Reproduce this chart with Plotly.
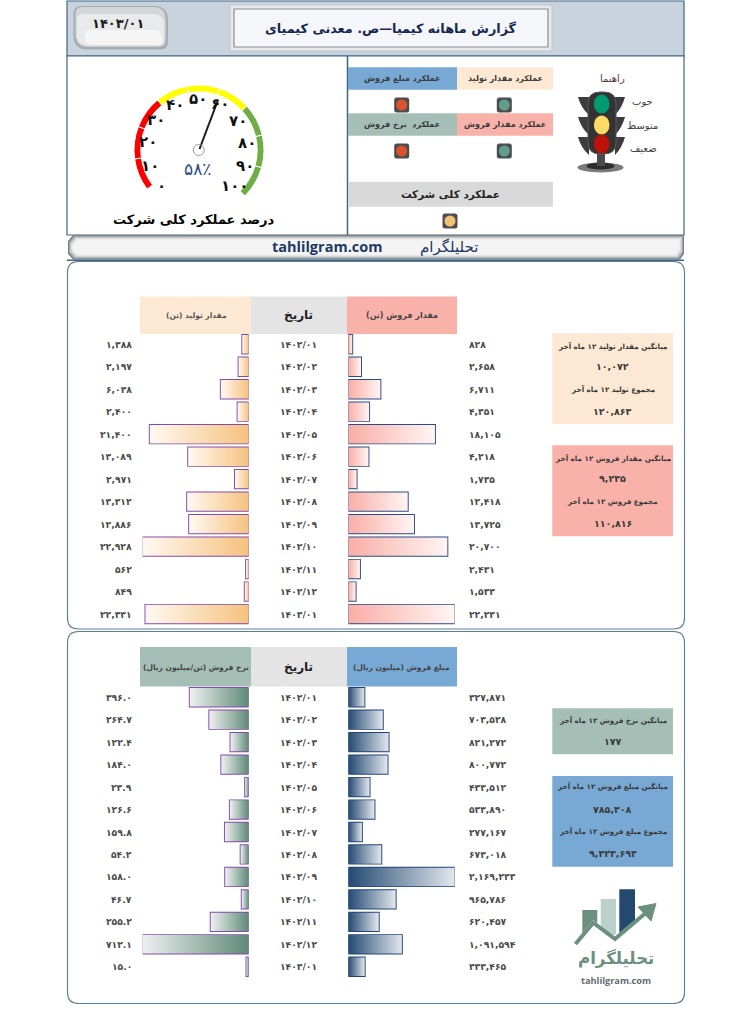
import plotly.graph_objects as go

# ---------- data ----------
dates = ["1402/01","1402/02","1402/03","1402/04","1402/05","1402/06","1402/07",
         "1402/08","1402/09","1402/10","1402/11","1402/12","1403/01"]
production = [1388,2197,6038,2400,21400,13089,2971,13312,12886,22928,562,849,22331]
sales_qty = [828,2658,6711,4351,18105,4218,1735,12418,13725,20700,2431,1533,22231]
sales_rate = [396.0,264.7,122.4,184.0,23.9,126.6,159.8,54.2,158.0,46.7,255.2,712.1,15.0]
sales_amount = [327871,703528,821272,800772,433512,533890,277167,673018,2169233,965786,620457,1091594,333465]
gauge_value = 58
gauge_ticks = [0,10,20,30,40,50,60,70,80,90,100]

FA = str.maketrans("0123456789", "۰۱۲۳۴۵۶۷۸۹")
def fa(v): return str(v).translate(FA)

FONT = "DejaVu Sans"
W, H = 733, 1024
PEACH, SALMON, SAGE, BLUE, GREY = "#FDE9D3", "#F9B2AA", "#A6BFB6", "#78A8D4", "#E4E4E4"
NAVY = "#1F3864"
TXT = "#3A3A3A"

fig = go.Figure()
shapes, notes = [], []

def rect(x0, y0, x1, y1, fill, line=None, lw=0, layer="below"):
    shapes.append(dict(type="rect", xref="x", yref="y", x0=x0, y0=y0, x1=x1, y1=y1,
                       fillcolor=fill, line=dict(color=line or fill, width=lw), layer=layer))
def rrect_path(x0, y0, x1, y1, r, r2=None):
    r2 = r if r2 is None else r2   # r: top-right & bottom-left, r2: top-left & bottom-right
    return (f"M{x0+r2},{y0} L{x1-r},{y0} Q{x1},{y0} {x1},{y0+r} L{x1},{y1-r2} Q{x1},{y1} {x1-r2},{y1} "
            f"L{x0+r},{y1} Q{x0},{y1} {x0},{y1-r} L{x0},{y0+r2} Q{x0},{y0} {x0+r2},{y0} Z")
def rrect(x0, y0, x1, y1, r, fill, line=None, lw=0, layer="below", r2=None):
    shapes.append(dict(type="path", xref="x", yref="y", path=rrect_path(x0,y0,x1,y1,r,r2),
                       fillcolor=fill, line=dict(color=line or fill, width=lw), layer=layer))
def oval(cx, cy, rx, ry, fill, line=None, lw=0, layer="above"):
    shapes.append(dict(type="circle", xref="x", yref="y", x0=cx-rx, x1=cx+rx, y0=cy-ry, y1=cy+ry,
                       fillcolor=fill, line=dict(color=line or fill, width=lw), layer=layer))
def poly(path, fill=None, line=None, lw=0, layer="above"):
    shapes.append(dict(type="path", xref="x", yref="y", path=path,
                       fillcolor=fill or "rgba(0,0,0,0)", line=dict(color=line or "rgba(0,0,0,0)", width=lw), layer=layer))
def text(x, y, s, size=10, color=TXT, bold=False, anchor="center", yref="y", family=FONT):
    notes.append(dict(xref="x", yref=yref, x=x, y=y, text=f"<b>{s}</b>" if bold else s, showarrow=False,
                      xanchor=anchor, yanchor="middle", align="center",
                      font=dict(family=family, size=size, color=color)))

# ---------- frame ----------
rect(67, 1, 684, 56, "#C9D3DD", "#3F6484", 1.2)
rect(67, 56, 684, 235, "#FFFFFF", "#3F6484", 1.2)
shapes.append(dict(type="line", xref="x", yref="y", x0=347.5, x1=347.5, y0=56, y1=235,
                   line=dict(color="#3F6484", width=1.5), layer="below"))
# date button
rrect(73.5, 6, 168, 49.5, 14, "#A6AEB5", r2=8)
rrect(75.5, 7, 165.7, 46.7, 13, "#D4D6D9", r2=7)
rrect(77, 14, 164, 45.5, 11, "#E9EAEC", r2=6)
rrect(85, 30, 162, 45, 8, "#F5F5F6", r2=5)
text(118, 23.5, fa("1403/01"), 13, "#1A1A1A", True)
# title box
rect(230, 5, 552, 51, "#E6E8EB", "#C2C6CB", 1)
rect(234, 9, 548, 47, "#F4F6F9", "#8A8F94", 1.2)
text(391, 28.5, "گزارش ماهانه کیمیا—ص. معدنی کیمیای", 12.8, "#14284F", True)
# bottom ribbon: stacked insets give the bevel
rib = "M{a},{t} L{b},{t} L{b},{c} L{d},{u} L{a},{u} L{e},{c} L{e},{f} Z"
for k, col in enumerate(["#7C8084", "#A3A6A9", "#C5C7C9", "#DEDFE0", "#EEEEEF", "#F4F4F5"]):
    poly(rib.format(a=73+k, b=684-k, t=235+k, c=254-k, d=680-k, u=259.5-k, e=68+k, f=241+k), col, layer="below")
shapes.append(dict(type="line", xref="x", yref="y", x0=67, x1=684, y0=260.2, y1=260.2,
                   line=dict(color="#3F6484", width=1.4), layer="below"))
text(327, 246.5, "tahlilgram.com", 14.5, NAVY, True, family="Open Sans")
text(449, 247, "تحلیلگرام", 15, NAVY)

# lower panels
rrect(67.5, 261.5, 684.5, 629, 11, "#FFFFFF", "#5B7C9B", 1.1)
rrect(67.5, 631.5, 684.5, 1003.5, 11, "#FFFFFF", "#5B7C9B", 1.1)

# ---------- gauge ----------
seg_colors = ["#FF0000"]*3 + ["#FFFF00"]*3 + ["#70AD47"]*3 + ["rgba(0,0,0,0)"]
fig.add_trace(go.Pie(values=[1]*9 + [3.37], sort=False, direction="clockwise", rotation=233,
                     hole=0.895, textinfo="none", hoverinfo="skip", showlegend=False,
                     marker=dict(colors=seg_colors, line=dict(color="#FFFFFF", width=[1]*9 + [0])),
                     domain=dict(x=[(199-65)/W, (199+65)/W], y=[1-(150+65)/H, 1-(150-65)/H])))
tick_pos = [(161.7,185.7),(150,165.7),(147.7,141.7),(156,120),(175,105),(198.3,99.3),(220,104),
            (238.3,120.7),(246.7,143.3),(245,165.7),(234,185.7)]
for t, (x, y) in zip(gauge_ticks, tick_pos):
    text(x, y, fa(t), 15, "#111111", True)
poly("M199.5,149 L218,100", None, "#1A1A1A", 2)
oval(198.7, 150, 5.5, 5.5, "rgba(255,255,255,0)", "#9A9A9A", 1)
text(197, 169, fa(gauge_value) + "٪", 17, "#2F4E8C")
text(194, 219, "درصد عملکرد کلی شرکت", 13, "#000000", True)

# ---------- status tiles ----------
rect(457, 67.3, 553, 89.7, PEACH)
rect(348, 67.3, 457, 89.7, BLUE)
rect(457, 113.3, 553, 135.7, SALMON)
rect(348, 113.3, 457, 135.7, SAGE)
rect(348, 181.7, 553, 206.7, "#D9D9D9")
text(505, 78.5, "عملکرد مقدار تولید", 8, TXT, True)
text(402, 78.5, "عملکرد مبلغ فروش", 8, TXT, True)
text(505, 124.5, "عملکرد مقدار فروش", 8, TXT, True)
text(402, 124.5, "عملکرد  نرخ فروش", 8, TXT, True)
text(450, 194, "عملکرد کلی شرکت", 10.5, "#222222", True)
for cx, cy, col in [(504.3,105,"#5F9E8B"),(401.7,105,"#D9532C"),(504.3,151,"#5F9E8B"),
                    (401.7,151,"#D9532C"),(450,221,"#F0C277")]:
    rrect(cx-7.5, cy-7.5, cx+7.5, cy+7.5, 2.5, "#4D4D4D", layer="above")
    oval(cx, cy, 5.5, 5.5, col)

# traffic light icon
for yy in (97, 117, 137):
    poly(f"M578,{yy} L589,{yy} L589,{yy+18} Q581,{yy+11} 578,{yy} Z", "#3C3C3C")
    poly(f"M625,{yy} L615,{yy} L615,{yy+18} Q622,{yy+11} 625,{yy} Z", "#3C3C3C")
oval(600.5, 167.5, 23, 5, "#7A7A7A")
oval(600.5, 166, 14, 3.5, "#2E2E2E")
rect(597, 150, 605, 166, "#4A4A4A", layer="above")
rrect(588, 92, 616, 154, 12, "#333333", "#5A5A5A", 1, layer="above")
oval(601.7, 104, 7.8, 9.5, "#009B72")
oval(601.7, 125, 7.8, 9.5, "#FFD966")
oval(601.7, 144, 7.8, 9.5, "#C0100A")
text(612.7, 78, "راهنما", 10, "#5A3A36")
text(642, 101.7, "خوب", 10, "#444444")
text(642.7, 125, "متوسط", 10, "#444444")
text(643, 148, "ضعیف", 10, "#444444")

# ---------- bar panels ----------
def add_panel(values, ax, x0, x1, y0, y1, reverse, dark, light, edge, labels, lab_x, lab_anchor):
    name = str(ax)
    vmax = max(values)
    rng = [vmax, 0] if reverse else [0, vmax]
    fig.update_layout({
        f"xaxis{name}": dict(domain=[x0/W, x1/W], range=rng, visible=False, fixedrange=True, anchor=f"y{name}"),
        f"yaxis{name}": dict(domain=[1-y1/H, 1-y0/H], range=[12.5, -0.5], visible=False, fixedrange=True, anchor=f"x{name}"),
    })
    half = 0.41
    for i, v in enumerate(values):
        fig.add_trace(go.Scatter(x=[0, v, v, 0, 0], y=[i-half, i-half, i+half, i+half, i-half],
                                 xaxis=f"x{name}", yaxis=f"y{name}", mode="lines", line=dict(width=0),
                                 fill="toself", hoverinfo="skip", showlegend=False, cliponaxis=False,
                                 fillgradient=dict(type="horizontal", start=0, stop=v,
                                                   colorscale=[[0, dark], [1, light]])))
    fig.add_trace(go.Bar(x=values, y=list(range(13)), orientation="h", width=2*half,
                         xaxis=f"x{name}", yaxis=f"y{name}", showlegend=False, hoverinfo="skip", cliponaxis=False,
                         marker=dict(color="rgba(0,0,0,0)", line=dict(color=edge, width=1.9))))
    for i, lab in enumerate(labels):
        text(lab_x, i, lab, 9.2, "#4A4A4A", True, lab_anchor, yref=f"y{name}")

add_panel(production, 2, 142.7, 248.7, 333, 625.3, True, "#F5C27E", "#FFF9F2", "#8549AB",
          [fa(f"{v:,}") for v in production], 134, "right")
add_panel(sales_qty, 3, 348.3, 454.7, 333, 625.3, False, "#F9AEA6", "#FFF5F3", "#2C4A86",
          [fa(f"{v:,}") for v in sales_qty], 466.5, "left")
add_panel(sales_rate, 4, 142.7, 248.7, 686, 978, True, "#5E8977", "#EDF1F0", "#8549AB",
          [fa(f"{v:.1f}") for v in sales_rate], 134, "right")
add_panel(sales_amount, 5, 348.3, 454.7, 686, 978, False, "#234A73", "#E2E7ED", "#23427A",
          [fa(f"{v:,}") for v in sales_amount], 466.5, "left")
for i, d in enumerate(dates):
    text(298, i, fa(d), 9.2, "#4A4A4A", True, yref="y2")
    text(298, i, fa(d), 9.2, "#4A4A4A", True, yref="y4")

# headers
rect(140, 296.5, 251, 334, PEACH); rect(251, 296.5, 347, 334, GREY); rect(347, 296.5, 457, 334, SALMON)
rect(140, 647, 251, 686.5, SAGE); rect(251, 647, 347, 686.5, GREY); rect(347, 647, 457, 686.5, BLUE)
text(196, 315, "مقدار تولید (تن)", 7.5, "#555555", True)
text(298, 315, "تاریخ", 12, "#222222", True)
text(401.7, 315.5, "مقدار فروش (تن)", 8, "#444444", True)
text(196, 667, "نرخ فروش (تن/میلیون ریال)", 7.5, "#444444", True)
text(298, 667, "تاریخ", 12, "#222222", True)
text(401.7, 667, "مبلغ فروش (میلیون ریال)", 7.5, "#444444", True)

# side boxes
rect(552.3, 333.3, 673, 424, PEACH)
rect(552.3, 445.3, 673, 536.3, SALMON)
rect(552.3, 708.3, 673, 754.3, SAGE)
rect(552.3, 776, 673, 866.7, BLUE)
side = [
    (346, "میانگین مقدار تولید ۱۲ ماه آخر", 7.2), (366, fa("10,072"), 9.5), (389, "مجموع تولید ۱۲ ماه آخر", 7.2), (411, fa("120,863"), 9.5),
    (458.3, "میانگین مقدار فروش ۱۲ ماه آخر", 7.2), (478.7, fa("9,235"), 9.5), (501.7, "مجموع فروش ۱۲ ماه آخر", 7.2), (523.3, fa("110,816"), 9.5),
    (720, "میانگین نرخ فروش ۱۲ ماه آخر", 7.2), (741, fa("177"), 9.5),
    (786.7, "میانگین مبلغ فروش ۱۲ ماه آخر", 7.2), (809, fa("785,308"), 9.5), (831.7, "مجموع مبلغ فروش ۱۲ ماه آخر", 7.2), (853, fa("9,423,694"), 9.5),
]
for y, s, size in side:
    text(612.7, y, s, size, "#3A3A3A", True)

# logo
poly("M582.3,910 L597.3,910 L597.3,923 L593,920 L582.3,933 Z", "#6C9080")
poly("M600.7,899 L616,899 L616,934 L612,936 L600.7,926 Z", "#B9D0CB")
poly("M619.3,889.3 L635,889.3 L635,920 L619.3,933 Z", "#234A6E")
poly("M575.5,944 L593.3,922.7 L615,939 L648,911", None, "#6C9080", 4)
poly("M638,907 L656,903.5 L651,921 Z", "#6C9080", "#6C9080", 1)
text(616, 958, "تحلیلگرام", 16.6, "#6C9080", True)
text(615.5, 980, "tahlilgram.com", 9.2, "#5F6B70", True, family="Open Sans")

fig.update_layout(
    width=W, height=H, autosize=False, margin=dict(l=0, r=0, t=0, b=0),
    paper_bgcolor="#FFFFFF", plot_bgcolor="rgba(0,0,0,0)", showlegend=False,
    barmode="overlay", shapes=shapes, annotations=notes,
    xaxis=dict(domain=[0, 1], range=[0, W], visible=False, fixedrange=True, anchor="y"),
    yaxis=dict(domain=[0, 1], range=[H, 0], visible=False, fixedrange=True, anchor="x"),
    font=dict(family=FONT),
)
fig.write_html("out.html", config={"displayModeBar": False},
               post_script="document.body.style.margin='0';document.body.style.overflow='hidden';")
